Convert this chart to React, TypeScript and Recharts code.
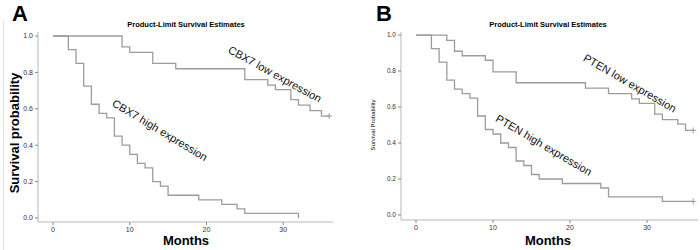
import React from 'react';
import { LineChart, Line, XAxis, YAxis } from 'recharts';

// Kaplan-Meier step points (months, survival)
const cbx7LowMonths = [0, 9, 10, 13, 16, 25, 28, 29, 31, 32, 33.5, 35, 36];
const cbx7LowSurv = [1, 0.94, 0.91, 0.85, 0.82, 0.76, 0.73, 0.705, 0.65, 0.62, 0.59, 0.56, 0.56];
const cbx7HighMonths = [0, 2, 3, 4, 5, 6, 7, 8, 9, 10, 11, 12, 13, 14, 15, 19, 22, 24, 25, 32];
const cbx7HighSurv = [1, 0.925, 0.85, 0.725, 0.625, 0.575, 0.55, 0.45, 0.4, 0.35, 0.3, 0.275, 0.2, 0.175, 0.125, 0.1, 0.075, 0.05, 0.025, 0];

const ptenLowMonths = [0, 4, 5, 6, 9, 10, 13, 22, 25, 28, 29, 31, 32, 34, 35, 36];
const ptenLowSurv = [1, 0.97, 0.91, 0.885, 0.86, 0.795, 0.735, 0.705, 0.675, 0.645, 0.62, 0.56, 0.53, 0.505, 0.47, 0.47];
const ptenHighMonths = [0, 2, 3, 4, 5, 6, 7, 8, 9, 10, 11, 12, 13, 14, 15, 16, 19, 24, 25, 32, 36];
const ptenHighSurv = [1, 0.925, 0.85, 0.75, 0.7, 0.675, 0.65, 0.55, 0.475, 0.45, 0.4, 0.375, 0.3, 0.275, 0.225, 0.2, 0.175, 0.15, 0.1, 0.075, 0.075];

const monthTicks = [0, 10, 20, 30];
const survTicks = [0, 0.2, 0.4, 0.6, 0.8, 1.0];

const toRows = (m: number[], s: number[]) => m.map((t, i) => ({ t, s: s[i] }));

const FONT = '"Liberation Sans", Arial, sans-serif';
const LINE = '#9c9c9c';
const FRAME = '#b8b8b8';

const plusDot = (n: number, censored: boolean) => (p: any) => {
  if (!censored || p.index !== n - 1) return <g key={p.index} />;
  return <path key={p.index} d={`M${p.cx - 3},${p.cy}h6M${p.cx},${p.cy - 3}v6`} stroke={LINE} strokeWidth={1} />;
};

function Panel({ cfg }: any) {
  const series = cfg.series;
  return (
    <div style={{ position: 'absolute', left: cfg.left, top: 0, width: 350, height: 250, fontFamily: FONT }}>
      <LineChart width={350} height={250} margin={cfg.margin}>
        <XAxis type="number" dataKey="t" domain={cfg.xDomain} ticks={monthTicks} allowDataOverflow
          height={cfg.xHeight} axisLine={{ stroke: FRAME }} tickLine={{ stroke: '#888' }} tickSize={3}
          tick={{ fontSize: 7, fill: '#333', fontFamily: FONT }} />
        <XAxis xAxisId="top" orientation="top" type="number" domain={cfg.xDomain} height={0} tick={false} tickLine={false} axisLine={{ stroke: FRAME }} />
        <YAxis type="number" domain={cfg.yDomain} ticks={survTicks} allowDataOverflow width={cfg.yWidth}
          axisLine={{ stroke: FRAME }} tickLine={{ stroke: '#888' }} tickSize={3}
          tickFormatter={(v: number) => v.toFixed(1)} tick={{ fontSize: cfg.yTickFont, fill: '#333', fontFamily: FONT }} />
        <YAxis yAxisId="right" orientation="right" width={0} tick={false} tickLine={false} axisLine={{ stroke: FRAME }} />
        {series.map((sr: any) => (
          <Line key={sr.name} data={sr.rows} dataKey="s" type="stepAfter" stroke={LINE} strokeWidth={1.3}
            dot={plusDot(sr.rows.length, sr.censored)} activeDot={false} isAnimationActive={false} />
        ))}
      </LineChart>
      <div style={{ position: 'absolute', left: cfg.letterX, top: 2, fontSize: 22, fontWeight: 'bold', lineHeight: '24px' }}>{cfg.letter}</div>
      <div style={{ position: 'absolute', left: cfg.titleX, top: 24, transform: 'translate(-50%,-50%)', fontSize: 7.5, fontWeight: 'bold', whiteSpace: 'nowrap' }}>
        Product-Limit Survival Estimates
      </div>
      <div style={{ position: 'absolute', left: cfg.titleX, top: 240, transform: 'translate(-50%,-50%)', fontSize: 13, fontWeight: 'bold' }}>Months</div>
      <div style={{ position: 'absolute', left: cfg.yLabel.x, top: cfg.yLabel.y, transform: 'translate(-50%,-50%) rotate(-90deg)', fontSize: cfg.yLabel.size, fontWeight: cfg.yLabel.weight, whiteSpace: 'nowrap' }}>
        {cfg.yLabel.text}
      </div>
      {series.map((sr: any) => (
        <div key={sr.name} style={{ position: 'absolute', left: sr.lx, top: sr.ly, transform: `translate(-50%,-50%) rotate(${sr.rot}deg)`, fontSize: 11, whiteSpace: 'nowrap', color: '#111' }}>
          {sr.name}
        </div>
      ))}
    </div>
  );
}

const panelA = {
  left: 0, letter: 'A', letterX: 12, titleX: 186,
  margin: { top: 32, right: 17, bottom: 0, left: 0 },
  xDomain: [-1.96, 36.5], yDomain: [-0.022, 1.022], xHeight: 28, yWidth: 38, yTickFont: 7,
  yLabel: { text: 'Survival probability', x: 14, y: 133, size: 13, weight: 'bold' },
  series: [
    { name: 'CBX7 low expression', rows: toRows(cbx7LowMonths, cbx7LowSurv), censored: true, lx: 275, ly: 74, rot: 29 },
    { name: 'CBX7 high expression', rows: toRows(cbx7HighMonths, cbx7HighSurv), censored: false, lx: 160, ly: 130, rot: 31 },
  ],
};

const panelB = {
  left: 350, letter: 'B', letterX: 26, titleX: 198,
  margin: { top: 32, right: 2, bottom: 0, left: 0 },
  xDomain: [-1.95, 36.62], yDomain: [-0.028, 1.017], xHeight: 30, yWidth: 51, yTickFont: 6.5,
  yLabel: { text: 'Survival Probability', x: 23, y: 125, size: 6, weight: 'normal' },
  series: [
    { name: 'PTEN low expression', rows: toRows(ptenLowMonths, ptenLowSurv), censored: true, lx: 280, ly: 83, rot: 30 },
    { name: 'PTEN high expression', rows: toRows(ptenHighMonths, ptenHighSurv), censored: true, lx: 194, ly: 145, rot: 30.5 },
  ],
};

export default function App() {
  return (
    <div style={{ position: 'absolute', left: 0, top: 0, width: 700, height: 250, background: '#fff', overflow: 'hidden' }}>
      <div style={{ position: 'absolute', left: 3, top: 20, width: 0, height: 230, borderLeft: '1px solid #e2e2e2' }} />
      <Panel cfg={panelA} />
      <Panel cfg={panelB} />
    </div>
  );
}
